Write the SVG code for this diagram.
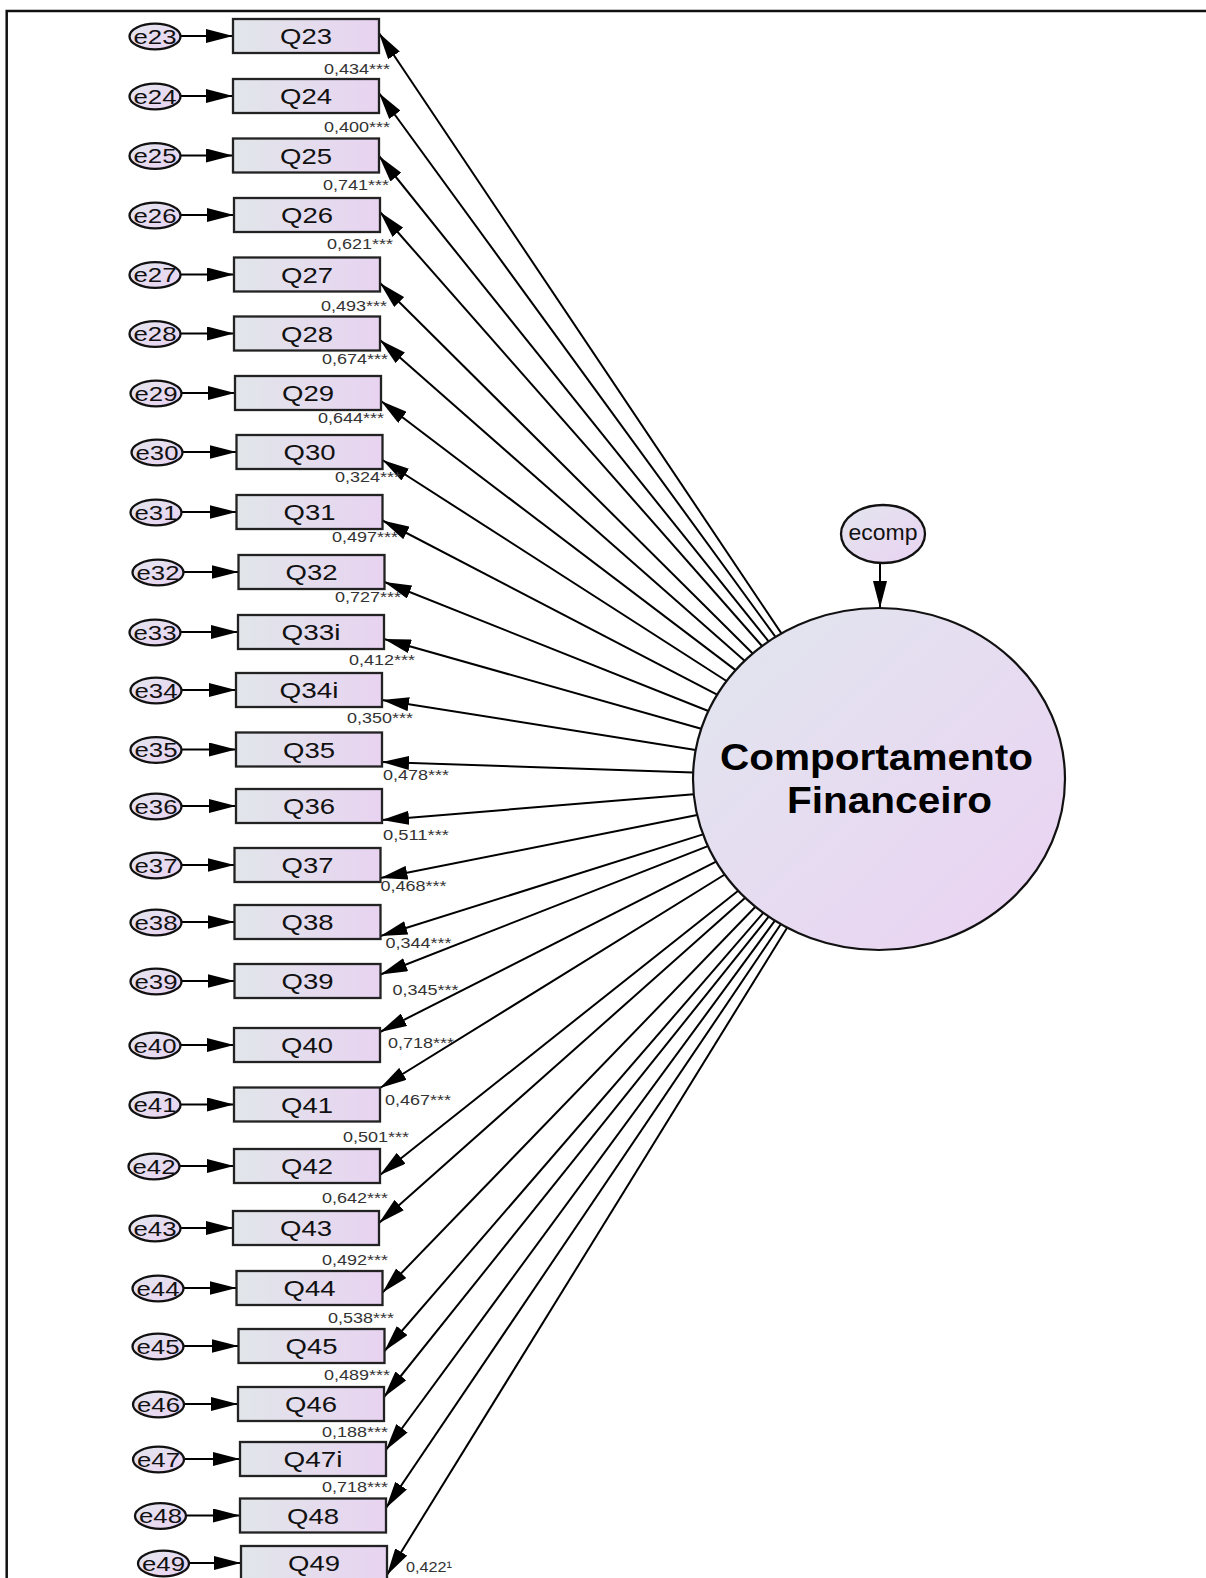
<svg xmlns="http://www.w3.org/2000/svg" width="1206" height="1578" viewBox="0 0 1206 1578">
<style>
.box{fill:url(#gBox);stroke:#222;stroke-width:2.3}
.err{fill:url(#gErr);stroke:#111;stroke-width:2.3}
.lat{fill:url(#gLat);stroke:#111;stroke-width:2.2}
.qt{font-family:"Liberation Sans",Arial,sans-serif;font-size:22px;text-anchor:middle;fill:#111}
.et{font-family:"Liberation Sans",Arial,sans-serif;font-size:20.5px;text-anchor:middle;fill:#111}
.wt{font-family:"Liberation Sans",Arial,sans-serif;font-size:15.5px;fill:#333}
.ct{font-family:"Liberation Sans",Arial,sans-serif;font-size:36px;font-weight:bold;text-anchor:middle;fill:#000}
.conn line{stroke:#000;stroke-width:2;fill:none;marker-end:url(#ah)}
</style>
<defs>
<linearGradient id="gBox" x1="0" y1="0" x2="1" y2="0"><stop offset="0" stop-color="#e1e6ea"/><stop offset="1" stop-color="#e8d3f1"/></linearGradient>
<linearGradient id="gErr" x1="0" y1="0" x2="1" y2="1"><stop offset="0" stop-color="#e3e6ee"/><stop offset="1" stop-color="#ead2f2"/></linearGradient>
<linearGradient id="gLat" x1="0" y1="0" x2="1" y2="1"><stop offset="0" stop-color="#e1e6ee"/><stop offset="1" stop-color="#ebd2f3"/></linearGradient>
<marker id="ah" markerUnits="userSpaceOnUse" markerWidth="27" markerHeight="14" refX="27" refY="7" orient="auto"><path d="M0,0 L27,7 L0,14 z" fill="#000"/></marker>
</defs>
<rect width="1206" height="1578" fill="#fff"/>
<path d="M6.7,1578 V11 H1206" fill="none" stroke="#111" stroke-width="2.5"/>

<g id="connectors" class="conn">
<line x1="781.4" y1="633.4" x2="379" y2="33"/>
<line x1="775.5" y1="636.9" x2="379" y2="93"/>
<line x1="768.6" y1="641.4" x2="379" y2="156"/>
<line x1="762.0" y1="646.0" x2="380" y2="212"/>
<line x1="752.7" y1="653.5" x2="380" y2="283"/>
<line x1="744.6" y1="660.8" x2="380" y2="340"/>
<line x1="735.6" y1="670.1" x2="381" y2="401"/>
<line x1="726.5" y1="681.0" x2="382.5" y2="460"/>
<line x1="717.1" y1="694.7" x2="382.5" y2="520.5"/>
<line x1="708.3" y1="711.0" x2="384.5" y2="582"/>
<line x1="701.2" y1="728.7" x2="384" y2="639"/>
<line x1="695.7" y1="749.9" x2="382" y2="700"/>
<line x1="693.1" y1="772.6" x2="382" y2="762"/>
<line x1="693.8" y1="794.3" x2="382" y2="820"/>
<line x1="697.2" y1="815.1" x2="380.5" y2="878"/>
<line x1="703.0" y1="834.4" x2="380.5" y2="936"/>
<line x1="707.9" y1="846.1" x2="380.5" y2="974.5"/>
<line x1="716.1" y1="861.6" x2="380" y2="1032"/>
<line x1="724.8" y1="874.5" x2="380" y2="1088"/>
<line x1="738.2" y1="890.7" x2="380" y2="1175"/>
<line x1="745.2" y1="897.8" x2="379" y2="1223"/>
<line x1="755.4" y1="906.8" x2="382.5" y2="1292.6"/>
<line x1="763.3" y1="912.8" x2="384.5" y2="1351"/>
<line x1="768.7" y1="916.7" x2="384" y2="1397"/>
<line x1="774.9" y1="920.7" x2="386" y2="1450"/>
<line x1="780.8" y1="924.2" x2="386" y2="1508"/>
<line x1="787.1" y1="927.7" x2="387" y2="1575"/>
<line x1="180" y1="36" x2="233" y2="36"/>
<line x1="180" y1="96" x2="233" y2="96"/>
<line x1="180" y1="155.5" x2="233" y2="155.5"/>
<line x1="180" y1="215" x2="234" y2="215"/>
<line x1="180" y1="274.5" x2="234" y2="274.5"/>
<line x1="180" y1="333.5" x2="234" y2="333.5"/>
<line x1="181" y1="393" x2="235" y2="393"/>
<line x1="182" y1="452" x2="236.5" y2="452"/>
<line x1="181" y1="512" x2="236.5" y2="512"/>
<line x1="183" y1="572" x2="238.5" y2="572"/>
<line x1="180" y1="632" x2="238" y2="632"/>
<line x1="181" y1="690" x2="236" y2="690"/>
<line x1="181" y1="749.5" x2="236" y2="749.5"/>
<line x1="181" y1="806" x2="236" y2="806"/>
<line x1="181" y1="865" x2="234.5" y2="865"/>
<line x1="181" y1="922" x2="234.5" y2="922"/>
<line x1="181" y1="981" x2="234.5" y2="981"/>
<line x1="180" y1="1045" x2="234" y2="1045"/>
<line x1="180" y1="1104.5" x2="234" y2="1104.5"/>
<line x1="179" y1="1166" x2="234" y2="1166"/>
<line x1="180" y1="1228" x2="233" y2="1228"/>
<line x1="183" y1="1288" x2="236.5" y2="1288"/>
<line x1="183" y1="1346" x2="238.5" y2="1346"/>
<line x1="183.5" y1="1404" x2="238" y2="1404"/>
<line x1="183.5" y1="1459" x2="240" y2="1459"/>
<line x1="185.5" y1="1515.5" x2="240" y2="1515.5"/>
<line x1="188.5" y1="1563" x2="241" y2="1563"/>
<line x1="880" y1="563" x2="880" y2="608"/>
</g>

<g id="weights">
<text class="wt" x="324" y="74" textLength="66" lengthAdjust="spacingAndGlyphs">0,434***</text>
<text class="wt" x="324" y="132" textLength="66" lengthAdjust="spacingAndGlyphs">0,400***</text>
<text class="wt" x="323" y="190" textLength="66" lengthAdjust="spacingAndGlyphs">0,741***</text>
<text class="wt" x="327" y="249" textLength="66" lengthAdjust="spacingAndGlyphs">0,621***</text>
<text class="wt" x="321" y="311" textLength="66" lengthAdjust="spacingAndGlyphs">0,493***</text>
<text class="wt" x="322" y="364" textLength="66" lengthAdjust="spacingAndGlyphs">0,674***</text>
<text class="wt" x="318" y="423" textLength="66" lengthAdjust="spacingAndGlyphs">0,644***</text>
<text class="wt" x="335" y="482" textLength="66" lengthAdjust="spacingAndGlyphs">0,324***</text>
<text class="wt" x="332" y="542" textLength="66" lengthAdjust="spacingAndGlyphs">0,497***</text>
<text class="wt" x="335" y="602" textLength="66" lengthAdjust="spacingAndGlyphs">0,727***</text>
<text class="wt" x="349" y="665" textLength="66" lengthAdjust="spacingAndGlyphs">0,412***</text>
<text class="wt" x="347" y="723" textLength="66" lengthAdjust="spacingAndGlyphs">0,350***</text>
<text class="wt" x="383" y="780" textLength="66" lengthAdjust="spacingAndGlyphs">0,478***</text>
<text class="wt" x="383" y="840" textLength="66" lengthAdjust="spacingAndGlyphs">0,511***</text>
<text class="wt" x="380.5" y="891" textLength="66" lengthAdjust="spacingAndGlyphs">0,468***</text>
<text class="wt" x="385.5" y="947.5" textLength="66" lengthAdjust="spacingAndGlyphs">0,344***</text>
<text class="wt" x="392.5" y="995" textLength="66" lengthAdjust="spacingAndGlyphs">0,345***</text>
<text class="wt" x="388" y="1048" textLength="66" lengthAdjust="spacingAndGlyphs">0,718***</text>
<text class="wt" x="385" y="1105" textLength="66" lengthAdjust="spacingAndGlyphs">0,467***</text>
<text class="wt" x="343" y="1142" textLength="66" lengthAdjust="spacingAndGlyphs">0,501***</text>
<text class="wt" x="322" y="1203" textLength="66" lengthAdjust="spacingAndGlyphs">0,642***</text>
<text class="wt" x="322" y="1264.5" textLength="66" lengthAdjust="spacingAndGlyphs">0,492***</text>
<text class="wt" x="328" y="1323" textLength="66" lengthAdjust="spacingAndGlyphs">0,538***</text>
<text class="wt" x="324" y="1380" textLength="66" lengthAdjust="spacingAndGlyphs">0,489***</text>
<text class="wt" x="322" y="1437" textLength="66" lengthAdjust="spacingAndGlyphs">0,188***</text>
<text class="wt" x="322" y="1492" textLength="66" lengthAdjust="spacingAndGlyphs">0,718***</text>
<text class="wt" x="406" y="1572" textLength="46" lengthAdjust="spacingAndGlyphs">0,422¹</text>
</g>

<g id="node-Q23"><rect class="box" x="233" y="19" width="146" height="34"/><text class="qt" x="306" y="44" textLength="52" lengthAdjust="spacingAndGlyphs">Q23</text></g>
<g id="node-Q24"><rect class="box" x="233" y="79" width="146" height="34"/><text class="qt" x="306" y="104" textLength="52" lengthAdjust="spacingAndGlyphs">Q24</text></g>
<g id="node-Q25"><rect class="box" x="233" y="138.5" width="146" height="34"/><text class="qt" x="306" y="163.5" textLength="52" lengthAdjust="spacingAndGlyphs">Q25</text></g>
<g id="node-Q26"><rect class="box" x="234" y="198" width="146" height="34"/><text class="qt" x="307" y="223" textLength="52" lengthAdjust="spacingAndGlyphs">Q26</text></g>
<g id="node-Q27"><rect class="box" x="234" y="257.5" width="146" height="34"/><text class="qt" x="307" y="282.5" textLength="52" lengthAdjust="spacingAndGlyphs">Q27</text></g>
<g id="node-Q28"><rect class="box" x="234" y="316.5" width="146" height="34"/><text class="qt" x="307" y="341.5" textLength="52" lengthAdjust="spacingAndGlyphs">Q28</text></g>
<g id="node-Q29"><rect class="box" x="235" y="376" width="146" height="34"/><text class="qt" x="308" y="401" textLength="52" lengthAdjust="spacingAndGlyphs">Q29</text></g>
<g id="node-Q30"><rect class="box" x="236.5" y="435" width="146" height="34"/><text class="qt" x="309.5" y="460" textLength="52" lengthAdjust="spacingAndGlyphs">Q30</text></g>
<g id="node-Q31"><rect class="box" x="236.5" y="495" width="146" height="34"/><text class="qt" x="309.5" y="520" textLength="52" lengthAdjust="spacingAndGlyphs">Q31</text></g>
<g id="node-Q32"><rect class="box" x="238.5" y="555" width="146" height="34"/><text class="qt" x="311.5" y="580" textLength="52" lengthAdjust="spacingAndGlyphs">Q32</text></g>
<g id="node-Q33i"><rect class="box" x="238" y="615" width="146" height="34"/><text class="qt" x="311" y="640" textLength="59" lengthAdjust="spacingAndGlyphs">Q33i</text></g>
<g id="node-Q34i"><rect class="box" x="236" y="673" width="146" height="34"/><text class="qt" x="309" y="698" textLength="59" lengthAdjust="spacingAndGlyphs">Q34i</text></g>
<g id="node-Q35"><rect class="box" x="236" y="732.5" width="146" height="34"/><text class="qt" x="309" y="757.5" textLength="52" lengthAdjust="spacingAndGlyphs">Q35</text></g>
<g id="node-Q36"><rect class="box" x="236" y="789" width="146" height="34"/><text class="qt" x="309" y="814" textLength="52" lengthAdjust="spacingAndGlyphs">Q36</text></g>
<g id="node-Q37"><rect class="box" x="234.5" y="848" width="146" height="34"/><text class="qt" x="307.5" y="873" textLength="52" lengthAdjust="spacingAndGlyphs">Q37</text></g>
<g id="node-Q38"><rect class="box" x="234.5" y="905" width="146" height="34"/><text class="qt" x="307.5" y="930" textLength="52" lengthAdjust="spacingAndGlyphs">Q38</text></g>
<g id="node-Q39"><rect class="box" x="234.5" y="964" width="146" height="34"/><text class="qt" x="307.5" y="989" textLength="52" lengthAdjust="spacingAndGlyphs">Q39</text></g>
<g id="node-Q40"><rect class="box" x="234" y="1028" width="146" height="34"/><text class="qt" x="307" y="1053" textLength="52" lengthAdjust="spacingAndGlyphs">Q40</text></g>
<g id="node-Q41"><rect class="box" x="234" y="1087.5" width="146" height="34"/><text class="qt" x="307" y="1112.5" textLength="52" lengthAdjust="spacingAndGlyphs">Q41</text></g>
<g id="node-Q42"><rect class="box" x="234" y="1149" width="146" height="34"/><text class="qt" x="307" y="1174" textLength="52" lengthAdjust="spacingAndGlyphs">Q42</text></g>
<g id="node-Q43"><rect class="box" x="233" y="1211" width="146" height="34"/><text class="qt" x="306" y="1236" textLength="52" lengthAdjust="spacingAndGlyphs">Q43</text></g>
<g id="node-Q44"><rect class="box" x="236.5" y="1271" width="146" height="34"/><text class="qt" x="309.5" y="1296" textLength="52" lengthAdjust="spacingAndGlyphs">Q44</text></g>
<g id="node-Q45"><rect class="box" x="238.5" y="1329" width="146" height="34"/><text class="qt" x="311.5" y="1354" textLength="52" lengthAdjust="spacingAndGlyphs">Q45</text></g>
<g id="node-Q46"><rect class="box" x="238" y="1387" width="146" height="34"/><text class="qt" x="311" y="1412" textLength="52" lengthAdjust="spacingAndGlyphs">Q46</text></g>
<g id="node-Q47i"><rect class="box" x="240" y="1442" width="146" height="34"/><text class="qt" x="313" y="1467" textLength="59" lengthAdjust="spacingAndGlyphs">Q47i</text></g>
<g id="node-Q48"><rect class="box" x="240" y="1498.5" width="146" height="34"/><text class="qt" x="313" y="1523.5" textLength="52" lengthAdjust="spacingAndGlyphs">Q48</text></g>
<g id="node-Q49"><rect class="box" x="241" y="1546" width="146" height="34"/><text class="qt" x="314" y="1571" textLength="52" lengthAdjust="spacingAndGlyphs">Q49</text></g>

<g id="node-e23"><ellipse class="err" cx="155" cy="36.5" rx="25.5" ry="12.8"/><text class="et" x="155" y="43.8" textLength="43" lengthAdjust="spacingAndGlyphs">e23</text></g>
<g id="node-e24"><ellipse class="err" cx="155" cy="96.5" rx="25.5" ry="12.8"/><text class="et" x="155" y="103.8" textLength="43" lengthAdjust="spacingAndGlyphs">e24</text></g>
<g id="node-e25"><ellipse class="err" cx="155" cy="156" rx="25.5" ry="12.8"/><text class="et" x="155" y="163.3" textLength="43" lengthAdjust="spacingAndGlyphs">e25</text></g>
<g id="node-e26"><ellipse class="err" cx="155" cy="215.5" rx="25.5" ry="12.8"/><text class="et" x="155" y="222.8" textLength="43" lengthAdjust="spacingAndGlyphs">e26</text></g>
<g id="node-e27"><ellipse class="err" cx="155" cy="275" rx="25.5" ry="12.8"/><text class="et" x="155" y="282.3" textLength="43" lengthAdjust="spacingAndGlyphs">e27</text></g>
<g id="node-e28"><ellipse class="err" cx="155" cy="334" rx="25.5" ry="12.8"/><text class="et" x="155" y="341.3" textLength="43" lengthAdjust="spacingAndGlyphs">e28</text></g>
<g id="node-e29"><ellipse class="err" cx="156" cy="393.5" rx="25.5" ry="12.8"/><text class="et" x="156" y="400.8" textLength="43" lengthAdjust="spacingAndGlyphs">e29</text></g>
<g id="node-e30"><ellipse class="err" cx="157" cy="452.5" rx="25.5" ry="12.8"/><text class="et" x="157" y="459.8" textLength="43" lengthAdjust="spacingAndGlyphs">e30</text></g>
<g id="node-e31"><ellipse class="err" cx="156" cy="512.5" rx="25.5" ry="12.8"/><text class="et" x="156" y="519.8" textLength="43" lengthAdjust="spacingAndGlyphs">e31</text></g>
<g id="node-e32"><ellipse class="err" cx="158" cy="572.5" rx="25.5" ry="12.8"/><text class="et" x="158" y="579.8" textLength="43" lengthAdjust="spacingAndGlyphs">e32</text></g>
<g id="node-e33"><ellipse class="err" cx="155" cy="632.5" rx="25.5" ry="12.8"/><text class="et" x="155" y="639.8" textLength="43" lengthAdjust="spacingAndGlyphs">e33</text></g>
<g id="node-e34"><ellipse class="err" cx="156" cy="690.5" rx="25.5" ry="12.8"/><text class="et" x="156" y="697.8" textLength="43" lengthAdjust="spacingAndGlyphs">e34</text></g>
<g id="node-e35"><ellipse class="err" cx="156" cy="750" rx="25.5" ry="12.8"/><text class="et" x="156" y="757.3" textLength="43" lengthAdjust="spacingAndGlyphs">e35</text></g>
<g id="node-e36"><ellipse class="err" cx="156" cy="806.5" rx="25.5" ry="12.8"/><text class="et" x="156" y="813.8" textLength="43" lengthAdjust="spacingAndGlyphs">e36</text></g>
<g id="node-e37"><ellipse class="err" cx="156" cy="865.5" rx="25.5" ry="12.8"/><text class="et" x="156" y="872.8" textLength="43" lengthAdjust="spacingAndGlyphs">e37</text></g>
<g id="node-e38"><ellipse class="err" cx="156" cy="922.5" rx="25.5" ry="12.8"/><text class="et" x="156" y="929.8" textLength="43" lengthAdjust="spacingAndGlyphs">e38</text></g>
<g id="node-e39"><ellipse class="err" cx="156" cy="981.5" rx="25.5" ry="12.8"/><text class="et" x="156" y="988.8" textLength="43" lengthAdjust="spacingAndGlyphs">e39</text></g>
<g id="node-e40"><ellipse class="err" cx="155" cy="1045.5" rx="25.5" ry="12.8"/><text class="et" x="155" y="1052.8" textLength="43" lengthAdjust="spacingAndGlyphs">e40</text></g>
<g id="node-e41"><ellipse class="err" cx="155" cy="1105" rx="25.5" ry="12.8"/><text class="et" x="155" y="1112.3" textLength="43" lengthAdjust="spacingAndGlyphs">e41</text></g>
<g id="node-e42"><ellipse class="err" cx="154" cy="1166.5" rx="25.5" ry="12.8"/><text class="et" x="154" y="1173.8" textLength="43" lengthAdjust="spacingAndGlyphs">e42</text></g>
<g id="node-e43"><ellipse class="err" cx="155" cy="1228.5" rx="25.5" ry="12.8"/><text class="et" x="155" y="1235.8" textLength="43" lengthAdjust="spacingAndGlyphs">e43</text></g>
<g id="node-e44"><ellipse class="err" cx="158" cy="1288.5" rx="25.5" ry="12.8"/><text class="et" x="158" y="1295.8" textLength="43" lengthAdjust="spacingAndGlyphs">e44</text></g>
<g id="node-e45"><ellipse class="err" cx="158" cy="1346.5" rx="25.5" ry="12.8"/><text class="et" x="158" y="1353.8" textLength="43" lengthAdjust="spacingAndGlyphs">e45</text></g>
<g id="node-e46"><ellipse class="err" cx="158.5" cy="1404.5" rx="25.5" ry="12.8"/><text class="et" x="158.5" y="1411.8" textLength="43" lengthAdjust="spacingAndGlyphs">e46</text></g>
<g id="node-e47"><ellipse class="err" cx="158.5" cy="1459.5" rx="25.5" ry="12.8"/><text class="et" x="158.5" y="1466.8" textLength="43" lengthAdjust="spacingAndGlyphs">e47</text></g>
<g id="node-e48"><ellipse class="err" cx="160.5" cy="1516" rx="25.5" ry="12.8"/><text class="et" x="160.5" y="1523.3" textLength="43" lengthAdjust="spacingAndGlyphs">e48</text></g>
<g id="node-e49"><ellipse class="err" cx="163.5" cy="1563.5" rx="25.5" ry="12.8"/><text class="et" x="163.5" y="1570.8" textLength="43" lengthAdjust="spacingAndGlyphs">e49</text></g>

<g id="node-ecomp"><ellipse class="err" cx="883" cy="534" rx="42" ry="29"/><text class="et" style="font-size:22px" x="883" y="540" textLength="69" lengthAdjust="spacingAndGlyphs">ecomp</text></g>

<g id="node-comportamento"><ellipse class="lat" cx="879" cy="779" rx="186" ry="171"/><text class="ct" x="876.5" y="770" textLength="313" lengthAdjust="spacingAndGlyphs">Comportamento</text><text class="ct" x="889.5" y="813" textLength="205" lengthAdjust="spacingAndGlyphs">Financeiro</text></g>
</svg>
